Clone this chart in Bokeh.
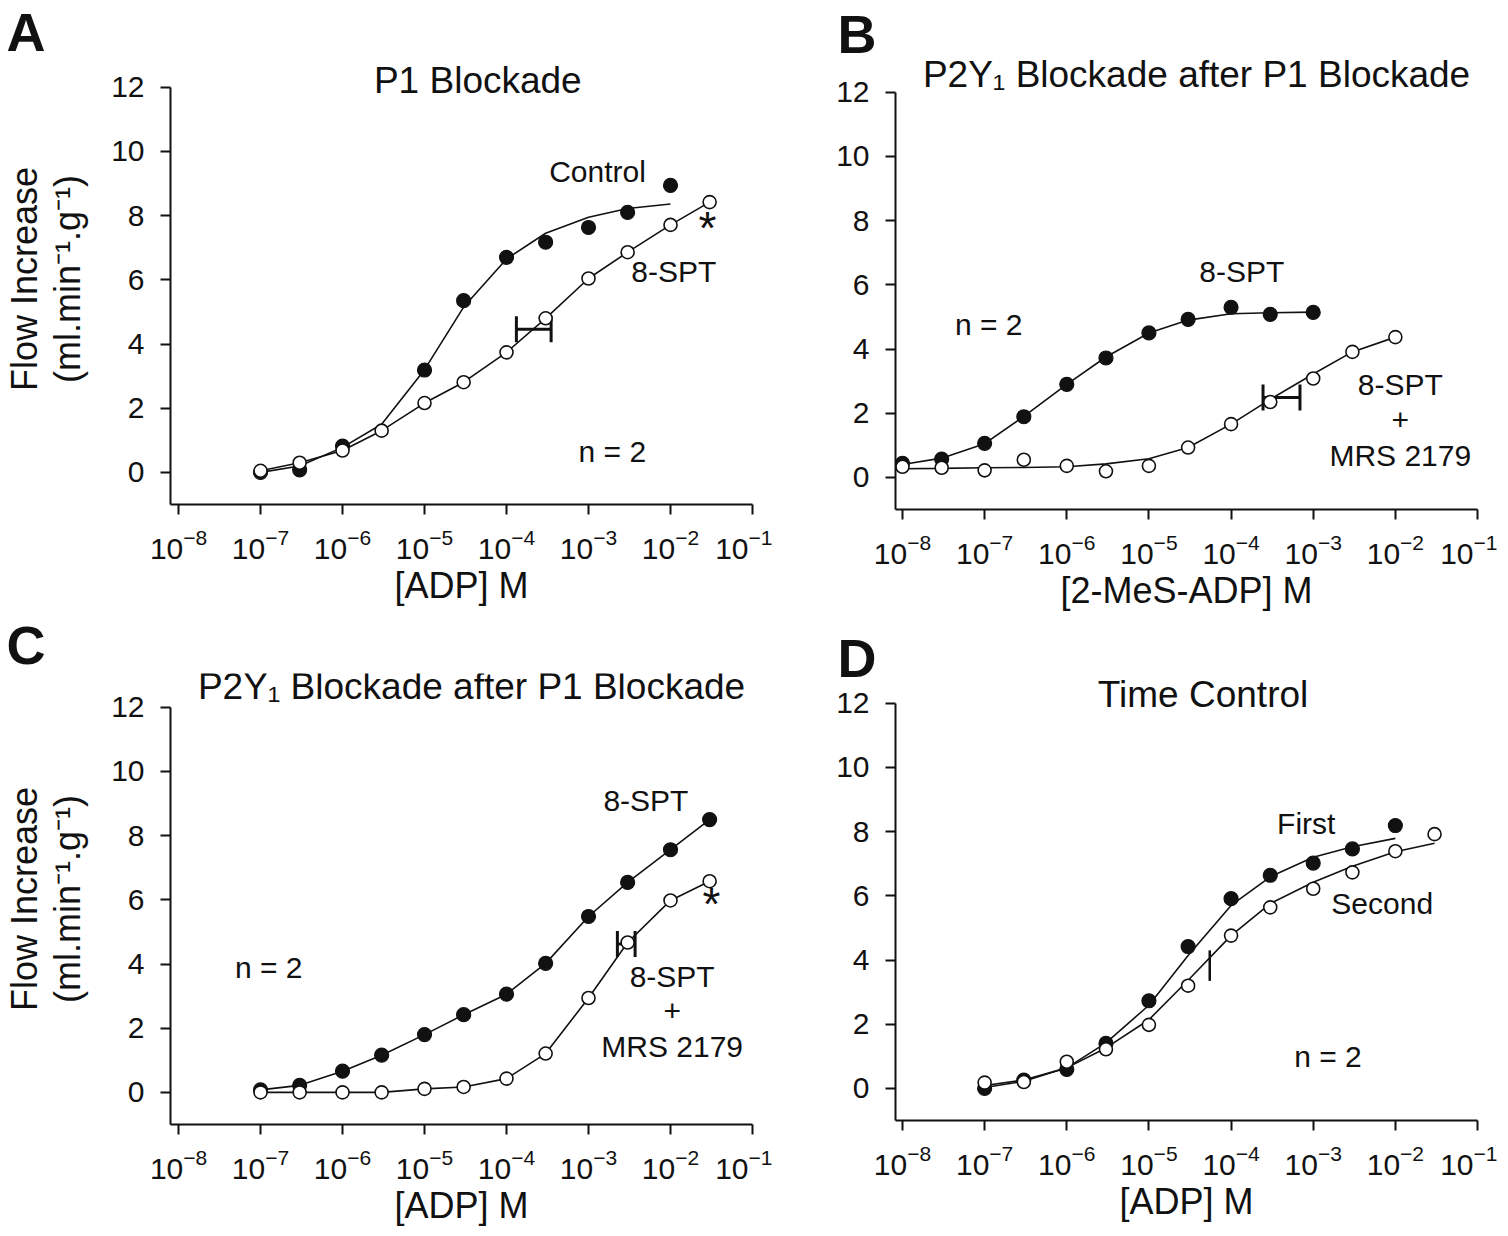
from bokeh.plotting import figure
from bokeh.models import (LinearAxis, FixedTicker, Label, Range1d, Whisker, TeeHead,
                          ColumnDataSource, Title)
from bokeh.layouts import row, column
from bokeh.embed import file_html
from bokeh.resources import INLINE

FONT = "Liberation Sans"

# ---------------- data ----------------
x_ticks = [1e-8, 1e-7, 1e-6, 1e-5, 1e-4, 1e-3, 1e-2, 1e-1]
y_ticks = [0, 2, 4, 6, 8, 10, 12]

# Panel A : P1 blockade, [ADP]
a_control_conc = [1e-7, 3e-7, 1e-6, 1e-5, 3e-5, 1e-4, 3e-4, 1e-3, 3e-3, 1e-2]
a_control_flow = [0.0, 0.08, 0.82, 3.19, 5.35, 6.7, 7.17, 7.63, 8.1, 8.94]
a_control_fit_conc = [1e-7, 3e-7, 1e-6, 3e-6, 1e-5, 3e-5, 1e-4, 3e-4, 1e-3, 3e-3, 1e-2]
a_control_fit_flow = [0.0, 0.2, 0.78, 1.5, 3.2, 5.15, 6.65, 7.45, 7.95, 8.22, 8.36]
a_spt_conc = [1e-7, 3e-7, 1e-6, 3e-6, 1e-5, 3e-5, 1e-4, 3e-4, 1e-3, 3e-3, 1e-2, 3e-2]
a_spt_flow = [0.05, 0.3, 0.68, 1.3, 2.16, 2.81, 3.74, 4.8, 6.04, 6.86, 7.71, 8.42]
a_ec50_lo, a_ec50_hi, a_ec50_flow = 1.32e-4, 3.5e-4, 4.46

# Panel B : P2Y1 blockade after P1 blockade, [2-MeS-ADP]
b_spt_conc = [1e-8, 3e-8, 1e-7, 3e-7, 1e-6, 3e-6, 1e-5, 3e-5, 1e-4, 3e-4, 1e-3]
b_spt_flow = [0.44, 0.57, 1.06, 1.89, 2.9, 3.72, 4.5, 4.92, 5.3, 5.08, 5.14]
b_spt_fit_flow = [0.4, 0.6, 1.05, 1.9, 2.9, 3.75, 4.5, 4.9, 5.1, 5.13, 5.15]
b_mrs_conc = [1e-8, 3e-8, 1e-7, 3e-7, 1e-6, 3e-6, 1e-5, 3e-5, 1e-4, 3e-4, 1e-3, 3e-3, 1e-2]
b_mrs_flow = [0.33, 0.3, 0.22, 0.55, 0.36, 0.19, 0.36, 0.93, 1.66, 2.35, 3.08, 3.91, 4.37]
b_mrs_fit_flow = [0.27, 0.28, 0.3, 0.31, 0.33, 0.42, 0.58, 0.93, 1.66, 2.43, 3.22, 3.91, 4.37]
b_ec50_lo, b_ec50_hi, b_ec50_flow = 2.45e-4, 6.9e-4, 2.49

# Panel C : P2Y1 blockade after P1 blockade, [ADP]
c_conc = [1e-7, 3e-7, 1e-6, 3e-6, 1e-5, 3e-5, 1e-4, 3e-4, 1e-3, 3e-3, 1e-2, 3e-2]
c_spt_flow = [0.08, 0.22, 0.66, 1.16, 1.8, 2.42, 3.06, 4.02, 5.48, 6.54, 7.56, 8.5]
c_mrs_flow = [0.0, 0.0, 0.0, 0.0, 0.11, 0.17, 0.43, 1.21, 2.94, 4.67, 5.98, 6.58]
c_ec50_lo, c_ec50_hi, c_ec50_flow = 2.25e-3, 3.7e-3, 4.62

# Panel D : time control, [ADP]
d_first_conc = [1e-7, 3e-7, 1e-6, 3e-6, 1e-5, 3e-5, 1e-4, 3e-4, 1e-3, 3e-3, 1e-2]
d_first_flow = [0.0, 0.26, 0.59, 1.4, 2.73, 4.42, 5.91, 6.64, 7.02, 7.46, 8.19]
d_first_fit_flow = [0.03, 0.22, 0.64, 1.42, 2.59, 4.14, 5.7, 6.59, 7.2, 7.53, 7.79]
d_second_conc = [1e-7, 3e-7, 1e-6, 3e-6, 1e-5, 3e-5, 1e-4, 3e-4, 1e-3, 3e-3, 1e-2, 3e-2]
d_second_flow = [0.18, 0.2, 0.83, 1.22, 1.98, 3.2, 4.76, 5.64, 6.22, 6.73, 7.39, 7.92]
d_second_fit_flow = [0.09, 0.26, 0.64, 1.26, 2.14, 3.37, 4.76, 5.76, 6.42, 6.92, 7.37, 7.64]
d_ec50_conc, d_ec50_lo, d_ec50_hi = 5.5e-5, 3.35, 4.3

INK = "#111111"
Y_TOP = 13.05


def make_panel(x_start, b_left, b_top, b_right, b_bottom, xlabel, with_ylabel,
               letter, letter_offset, letter_standoff):
    p = figure(x_axis_type="log", x_range=Range1d(10 ** x_start, 10 ** -1),
               y_range=Range1d(-1, Y_TOP), frame_width=582, frame_height=451,
               min_border_left=b_left, min_border_top=b_top,
               min_border_right=b_right, min_border_bottom=b_bottom,
               output_backend="svg", toolbar_location=None,
               background_fill_color="white", border_fill_color="white")
    p.outline_line_color = None
    p.xgrid.visible = False
    p.ygrid.visible = False
    p.xaxis.ticker = FixedTicker(ticks=x_ticks)
    p.yaxis.ticker = FixedTicker(ticks=y_ticks)
    p.yaxis.bounds = (-1, 12)
    for ax in (p.xaxis[0], p.yaxis[0]):
        ax.axis_line_width = 2
        ax.axis_line_color = INK
        ax.major_tick_line_width = 2
        ax.major_tick_line_color = INK
        ax.major_tick_out = 10
        ax.major_tick_in = 0
        ax.minor_tick_line_color = None
        ax.major_label_text_font = FONT
        ax.major_label_text_font_size = "30px"
        ax.major_label_text_color = INK
        ax.axis_label_text_font = FONT
        ax.axis_label_text_font_style = "normal"
        ax.axis_label_text_font_size = "36px"
        ax.axis_label_text_color = INK
    p.xaxis.major_label_standoff = 14
    p.xaxis.axis_label = xlabel
    p.xaxis.axis_label_standoff = 3
    p.yaxis.major_label_standoff = 16
    if with_ylabel:
        p.yaxis.axis_label = "(ml.min\u207b\u00b9.g\u207b\u00b9)"
        p.yaxis.axis_label_standoff = 20
        outer = LinearAxis(axis_label="Flow Increase", ticker=FixedTicker(ticks=[]),
                           axis_line_color=None, major_tick_line_color=None,
                           major_tick_out=0, major_label_standoff=0,
                           minor_tick_line_color=None, major_label_text_font_size="0px",
                           axis_label_text_font=FONT, axis_label_text_font_style="normal",
                           axis_label_text_font_size="36px", axis_label_text_color=INK,
                           axis_label_standoff=0)
        p.add_layout(outer, "left")
    p.add_layout(Title(text=letter, align="left", offset=letter_offset,
                       standoff=letter_standoff, text_font=FONT, text_font_size="54px",
                       text_font_style="bold", text_color=INK), "above")
    return p


def add_text(p, x_exp, y, text, size="30px", style="normal"):
    p.add_layout(Label(x=10 ** x_exp, y=y, text=text, text_font=FONT, text_font_size=size,
                       text_font_style=style, text_align="center", text_baseline="middle",
                       text_color=INK))


def curve(p, xs, ys):
    p.line(xs, ys, line_color=INK, line_width=1.6)


def filled(p, xs, ys):
    p.scatter(xs, ys, marker="circle", size=14, fill_color=INK, line_color=INK, line_width=1.2)


def hollow(p, xs, ys):
    p.scatter(xs, ys, marker="circle", size=13, fill_color="white", line_color=INK, line_width=1.6)


def ec50_bar(p, lo, hi, y):
    src = ColumnDataSource(dict(base=[y], lower=[lo], upper=[hi]))
    w = Whisker(source=src, base="base", lower="lower", upper="upper", dimension="width",
                line_width=3, line_color=INK,
                lower_head=TeeHead(size=26, line_width=3, line_color=INK),
                upper_head=TeeHead(size=26, line_width=3, line_color=INK))
    p.add_layout(w)


# ---------------- Panel A ----------------
pa = make_panel(-8.098, 163, 53, 20, 108, "[ADP] M", True, "A", -164, -16)
curve(pa, a_control_fit_conc, a_control_fit_flow)
curve(pa, a_spt_conc, a_spt_flow)
ec50_bar(pa, a_ec50_lo, a_ec50_hi, a_ec50_flow)
filled(pa, a_control_conc, a_control_flow)
hollow(pa, a_spt_conc, a_spt_flow)
add_text(pa, -4.35, 12.2, "P1 Blockade", "37px")
add_text(pa, -2.89, 9.38, "Control")
add_text(pa, -1.96, 6.27, "8-SPT")
add_text(pa, -1.55, 7.6, "*", "46px")
add_text(pa, -2.71, 0.65, "n = 2")

# ---------------- Panel B ----------------
pb = make_panel(-8.085, 123, 58, 20, 103, "[2-MeS-ADP] M", False, "B", -58, -10)
curve(pb, b_spt_conc, b_spt_fit_flow)
curve(pb, b_mrs_conc, b_mrs_fit_flow)
ec50_bar(pb, b_ec50_lo, b_ec50_hi, b_ec50_flow)
filled(pb, b_spt_conc, b_spt_flow)
hollow(pb, b_mrs_conc, b_mrs_flow)
add_text(pb, -4.42, 12.54, "P2Y\u2081 Blockade after P1 Blockade", "37px")
add_text(pb, -3.87, 6.4, "8-SPT")
add_text(pb, -6.95, 4.75, "n = 2")
add_text(pb, -1.94, 2.88, "8-SPT")
add_text(pb, -1.94, 1.8, "+")
add_text(pb, -1.94, 0.68, "MRS 2179")

# ---------------- Panel C ----------------
pc = make_panel(-8.098, 163, 58, 20, 105, "[ADP] M", True, "C", -164, -2)
curve(pc, c_conc, c_spt_flow)
curve(pc, c_conc, c_mrs_flow)
ec50_bar(pc, c_ec50_lo, c_ec50_hi, c_ec50_flow)
filled(pc, c_conc, c_spt_flow)
hollow(pc, c_conc, c_mrs_flow)
add_text(pc, -4.427, 12.64, "P2Y\u2081 Blockade after P1 Blockade", "37px")
add_text(pc, -2.3, 9.08, "8-SPT")
add_text(pc, -6.9, 3.9, "n = 2")
add_text(pc, -1.98, 3.6, "8-SPT")
add_text(pc, -1.98, 2.53, "+")
add_text(pc, -1.98, 1.42, "MRS 2179")
add_text(pc, -1.5, 5.88, "*", "46px")

# ---------------- Panel D ----------------
pd = make_panel(-8.085, 123, 56, 20, 107, "[ADP] M", False, "D", -58, -36)
curve(pd, d_first_conc, d_first_fit_flow)
curve(pd, d_second_conc, d_second_fit_flow)
pd.segment(x0=[d_ec50_conc], y0=[d_ec50_lo], x1=[d_ec50_conc], y1=[d_ec50_hi],
           line_color=INK, line_width=2.5)
filled(pd, d_first_conc, d_first_flow)
hollow(pd, d_second_conc, d_second_flow)
add_text(pd, -4.341, 12.26, "Time Control", "37px")
add_text(pd, -3.085, 8.26, "First")
add_text(pd, -2.16, 5.77, "Second")
add_text(pd, -2.82, 1.0, "n = 2")

layout = column(row(column(pa), column(pb)), row(column(pc), column(pd)))
open("out.html", "w").write(file_html(layout, INLINE))
